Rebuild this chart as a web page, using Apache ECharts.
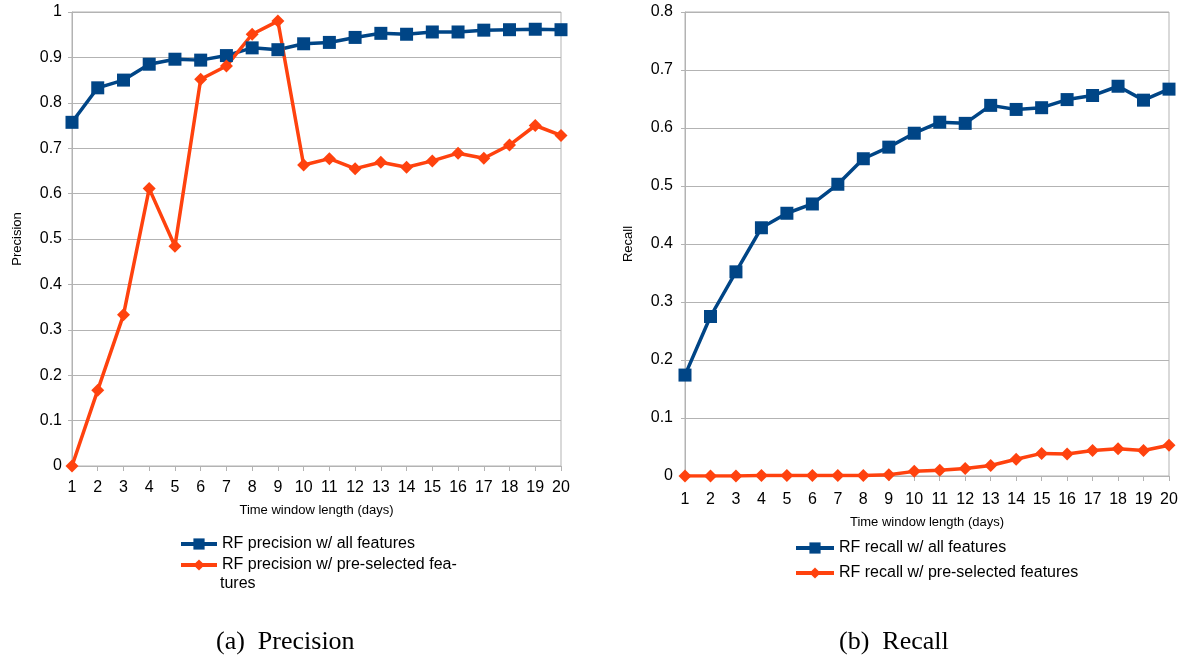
<!DOCTYPE html>
<html><head><meta charset="utf-8">
<script src="https://cdn.jsdelivr.net/npm/echarts@6/dist/echarts.min.js"></script>
<style>html,body{margin:0;padding:0;background:#fff}#c{width:1188px;height:659px}</style>
</head><body><div id="c"></div>
<script>
const days = ['1','2','3','4','5','6','7','8','9','10','11','12','13','14','15','16','17','18','19','20'];
const precisionAll = [0.757,0.833,0.850,0.885,0.896,0.894,0.904,0.921,0.917,0.930,0.933,0.944,0.953,0.951,0.956,0.956,0.960,0.961,0.962,0.961];
const precisionSel = [0.0,0.167,0.333,0.611,0.484,0.852,0.881,0.951,0.980,0.663,0.677,0.655,0.669,0.658,0.672,0.689,0.678,0.707,0.750,0.728];
const recallAll = [0.174,0.275,0.352,0.428,0.453,0.469,0.503,0.547,0.567,0.591,0.610,0.608,0.639,0.632,0.635,0.649,0.656,0.672,0.648,0.667];
const recallSel = [0.0,0.0,0.0,0.001,0.001,0.001,0.001,0.001,0.002,0.008,0.010,0.013,0.018,0.029,0.039,0.038,0.044,0.047,0.044,0.053];
const names = {
  pAll: 'RF precision w/ all features',
  pSel: 'RF precision w/ pre-selected features',
  rAll: 'RF recall w/ all features',
  rSel: 'RF recall w/ pre-selected features'
};
const BLUE = '#004586', ORANGE = '#ff420e', GRAY = '#b3b3b3';
const FONT = '"Liberation Sans", Arial, sans-serif';
const SERIF = '26px "Liberation Serif", "Times New Roman", serif';

function xAx(gi, gap, margin) {
  return {
    type: 'category', gridIndex: gi, data: days, boundaryGap: false,
    axisLine: { lineStyle: { color: GRAY, width: 1 } },
    axisTick: { show: true, length: 5, lineStyle: { color: GRAY } },
    axisLabel: { color: '#000', fontSize: 16, fontFamily: FONT, margin: margin },
    name: 'Time window length (days)', nameLocation: 'middle', nameGap: gap,
    nameTextStyle: { color: '#000', fontSize: 13, fontFamily: FONT }
  };
}
function yAx(gi, max, name, gap, margin) {
  return {
    type: 'value', gridIndex: gi, min: 0, max: max, interval: 0.1,
    axisLine: { show: true, lineStyle: { color: GRAY, width: 1 } },
    axisTick: { show: true, length: 4, lineStyle: { color: GRAY } },
    splitLine: { lineStyle: { color: GRAY, width: 1 } },
    axisLabel: { color: '#000', fontSize: 16, fontFamily: FONT, margin: margin,
      formatter: v => (Math.round(v * 10) / 10).toString() },
    name: name, nameLocation: 'middle', nameGap: gap, nameRotate: 90,
    nameTextStyle: { color: '#000', fontSize: 13, fontFamily: FONT }
  };
}
function ser(name, data, gi, color, symbol, size) {
  return {
    type: 'line', name: name, data: data, xAxisIndex: gi, yAxisIndex: gi,
    symbol: symbol, symbolSize: size, showAllSymbol: true,
    lineStyle: { color: color, width: 3.5 }, itemStyle: { color: color },
    animation: false
  };
}

const chart = echarts.init(document.getElementById('c'));
chart.setOption({
  animation: false,
  grid: [
    { left: 72, right: 627, top: 12, bottom: 193, show: true, borderColor: GRAY, borderWidth: 1 },
    { left: 685, right: 19, top: 12, bottom: 183, show: true, borderColor: GRAY, borderWidth: 1 }
  ],
  xAxis: [xAx(0, 38, 14), xAx(1, 40, 16)],
  yAxis: [yAx(0, 1, 'Precision', 48, 10), yAx(1, 0.8, 'Recall', 50, 12)],
  legend: [
    { data: [names.pAll, names.pSel], orient: 'vertical', left: 179, top: 536, padding: 0,
      itemWidth: 36, itemHeight: 14, itemGap: 5,
      lineStyle: { width: 4 },
      textStyle: { color: '#000', fontSize: 16, fontFamily: FONT },
      formatter: n => n === names.pSel ? 'RF precision w/ pre-selected fea-' : n },
    { data: [names.rAll, names.rSel], orient: 'vertical', left: 794, top: 540, padding: 0,
      itemWidth: 38, itemHeight: 14, itemGap: 9,
      lineStyle: { width: 4 },
      textStyle: { color: '#000', fontSize: 16, fontFamily: FONT } }
  ],
  graphic: [
    { type: 'text', left: 220, top: 576, style: { text: 'tures', fill: '#000', font: '16px ' + FONT } },
    { type: 'text', left: 216, top: 629, style: { text: '(a)  Precision', fill: '#000', font: SERIF } },
    { type: 'text', left: 839, top: 629, style: { text: '(b)  Recall', fill: '#000', font: SERIF } }
  ],
  series: [
    ser(names.pAll, precisionAll, 0, BLUE, 'rect', 13),
    ser(names.pSel, precisionSel, 0, ORANGE, 'diamond', 13),
    ser(names.rAll, recallAll, 1, BLUE, 'rect', 13),
    ser(names.rSel, recallSel, 1, ORANGE, 'diamond', 13)
  ]
});
</script></body></html>
